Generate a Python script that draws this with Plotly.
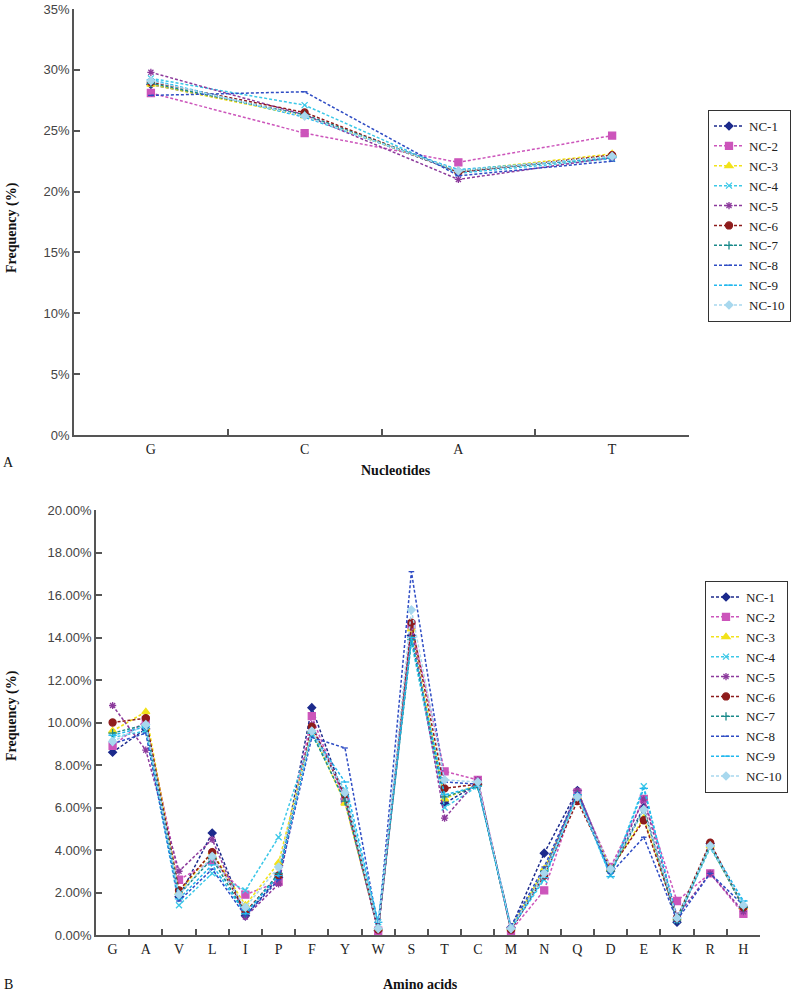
import plotly.graph_objects as go

# ---------------- data ----------------
nucleotides = ["G", "C", "A", "T"]
amino_acids = ["G", "A", "V", "L", "I", "P", "F", "Y", "W", "S",
               "T", "C", "M", "N", "Q", "D", "E", "K", "R", "H"]
series_names = ["NC-1", "NC-2", "NC-3", "NC-4", "NC-5",
                "NC-6", "NC-7", "NC-8", "NC-9", "NC-10"]

nuc_nc1 = [28.8, 26.3, 21.6, 22.9]
nuc_nc2 = [28.1, 24.8, 22.4, 24.6]
nuc_nc3 = [28.8, 26.2, 21.7, 23.1]
nuc_nc4 = [29.3, 27.1, 21.5, 22.7]
nuc_nc5 = [29.8, 26.3, 21.0, 22.8]
nuc_nc6 = [29.0, 26.5, 21.6, 23.0]
nuc_nc7 = [28.9, 26.3, 21.7, 22.8]
nuc_nc8 = [27.9, 28.2, 21.3, 22.5]
nuc_nc9 = [29.2, 26.1, 21.8, 22.8]
nuc_nc10 = [29.1, 26.2, 21.7, 22.9]

aa_nc1 = [8.6, 9.7, 1.8, 4.8, 0.9, 2.7, 10.7, 6.4, 0.2, 14.1, 6.2, 7.1, 0.35, 3.85, 6.8, 3.0, 6.0, 0.6, 4.3, 1.3]
aa_nc2 = [8.9, 10.1, 2.6, 3.5, 1.9, 2.5, 10.3, 6.3, 0.2, 14.6, 7.7, 7.3, 0.2, 2.1, 6.7, 3.2, 6.4, 1.6, 2.9, 1.0]
aa_nc3 = [9.6, 10.5, 2.0, 3.9, 1.4, 3.4, 9.6, 6.2, 0.3, 14.4, 6.4, 7.1, 0.3, 3.1, 6.5, 3.1, 5.5, 0.8, 4.2, 1.3]
aa_nc4 = [9.3, 9.6, 1.4, 2.9, 2.1, 4.6, 9.4, 6.8, 0.6, 13.8, 6.0, 7.0, 0.3, 2.6, 6.6, 2.8, 7.0, 0.7, 4.1, 1.5]
aa_nc5 = [10.8, 8.7, 3.0, 4.5, 0.85, 2.4, 9.9, 6.5, 0.2, 14.5, 5.5, 7.3, 0.2, 2.9, 6.8, 3.0, 6.4, 0.9, 2.9, 1.1]
aa_nc6 = [10.0, 10.2, 2.1, 3.9, 1.1, 2.8, 9.8, 6.6, 0.25, 14.7, 6.9, 7.1, 0.25, 2.8, 6.3, 3.1, 5.4, 0.8, 4.35, 1.3]
aa_nc7 = [9.5, 9.9, 1.9, 3.6, 1.0, 2.9, 9.5, 6.3, 0.3, 13.9, 6.5, 7.0, 0.3, 3.0, 6.6, 3.0, 5.9, 0.7, 4.2, 1.3]
aa_nc8 = [9.0, 9.5, 1.6, 3.1, 0.9, 2.6, 9.3, 8.8, 0.3, 17.1, 7.2, 7.1, 0.4, 3.2, 6.7, 2.9, 4.6, 0.7, 2.9, 1.4]
aa_nc9 = [9.4, 9.8, 1.7, 3.3, 1.0, 2.8, 9.5, 7.2, 0.6, 14.0, 6.6, 7.0, 0.3, 2.7, 6.6, 2.75, 6.9, 0.8, 4.2, 1.6]
aa_nc10 = [9.1, 9.9, 1.9, 3.7, 1.3, 3.2, 9.6, 6.7, 0.3, 15.3, 7.3, 7.2, 0.3, 2.9, 6.5, 3.1, 5.9, 0.8, 4.2, 1.4]

nuc_values = [nuc_nc1, nuc_nc2, nuc_nc3, nuc_nc4, nuc_nc5,
              nuc_nc6, nuc_nc7, nuc_nc8, nuc_nc9, nuc_nc10]
aa_values = [aa_nc1, aa_nc2, aa_nc3, aa_nc4, aa_nc5,
             aa_nc6, aa_nc7, aa_nc8, aa_nc9, aa_nc10]

# ---------------- styles ----------------
colors = ["#1c2a8c", "#cc55bb", "#f2e21a", "#3cc8e8", "#8c3a9c",
          "#8e1c1c", "#1a8a8a", "#2e4cc4", "#22b8ee", "#a8d8ee"]
symbols = ["diamond", "square", "triangle-up", "x-thin-open", "asterisk-open",
           "circle", "cross-thin-open", "line-ew-open", "line-ew-open", "diamond"]
sizes = [6, 7, 7, 6, 6, 7, 6, 4, 6, 6]

serif = "Liberation Serif"
sans = "Liberation Sans"

W = 800.0
H = 993.0


def px(x):
    return x / W


def py(y):
    return 1 - y / H


fig = go.Figure()

for i, name in enumerate(series_names):
    fig.add_trace(go.Scatter(
        x=nucleotides, y=nuc_values[i], name=name, mode="lines+markers",
        line=dict(color=colors[i], width=1.5, dash="3px,2px"),
        marker=dict(symbol=symbols[i], size=sizes[i], color=colors[i],
                    line=dict(color=colors[i], width=1.3)),
        xaxis="x", yaxis="y", legend="legend"))

for i, name in enumerate(series_names):
    fig.add_trace(go.Scatter(
        x=amino_acids, y=aa_values[i], name=name, mode="lines+markers",
        line=dict(color=colors[i], width=1.5, dash="3px,2px"),
        marker=dict(symbol=symbols[i], size=sizes[i], color=colors[i],
                    line=dict(color=colors[i], width=1.3)),
        xaxis="x2", yaxis="y2", legend="legend2"))

axis_common = dict(showline=True, linecolor="#555555", linewidth=1.5,
                   ticks="inside", ticklen=6, tickcolor="#555555",
                   tickwidth=1.5, showgrid=False, zeroline=False,
                   automargin=False)

fig.update_layout(
    width=800, height=993,
    margin=dict(l=0, r=0, t=0, b=0, autoexpand=False),
    paper_bgcolor="white", plot_bgcolor="white",
    showlegend=True,
    xaxis=dict(domain=[px(74), px(689)], anchor="y", type="category",
               tickson="boundaries", range=[-0.5, 3.5],
               tickfont=dict(family=serif, size=14, color="#222"),
               **axis_common),
    yaxis=dict(domain=[py(435), py(9)], anchor="x",
               range=[0, 35], dtick=5, ticksuffix="%",
               tickfont=dict(family=sans, size=13, color="#444"),
               **axis_common),
    xaxis2=dict(domain=[px(96), px(760)], anchor="y2", type="category",
                tickson="boundaries", range=[-0.5, 19.5],
                tickfont=dict(family=serif, size=14, color="#222"),
                **axis_common),
    yaxis2=dict(domain=[py(935), py(510)], anchor="x2",
                range=[0, 20], dtick=2, tickformat=".2f", ticksuffix="%",
                tickfont=dict(family=sans, size=13, color="#444"),
                **axis_common),
    legend=dict(x=px(708), y=py(110), xanchor="left", yanchor="top",
                bgcolor="white", bordercolor="#333", borderwidth=1,
                font=dict(family=serif, size=13, color="#222"),
                tracegroupgap=0, itemwidth=30),
    legend2=dict(x=px(705), y=py(581), xanchor="left", yanchor="top",
                 bgcolor="white", bordercolor="#333", borderwidth=1,
                 font=dict(family=serif, size=13, color="#222"),
                 tracegroupgap=0, itemwidth=30),
)

ann_font = dict(family=serif, size=14, color="#111")
annotations = [
    dict(text="<b>Nucleotides</b>", x=px(396), y=py(471)),
    dict(text="<b>Amino acids</b>", x=px(420), y=py(984)),
    dict(text="<b>Frequency (%)</b>", x=px(12), y=py(228), textangle=-90),
    dict(text="<b>Frequency (%)</b>", x=px(12), y=py(716), textangle=-90),
    dict(text="A", x=px(8), y=py(462)),
    dict(text="B", x=px(8), y=py(984)),
]
for a in annotations:
    fig.add_annotation(xref="paper", yref="paper", showarrow=False,
                       xanchor="center", yanchor="middle", font=ann_font, **a)

fig.write_html("out.html",
               config={"displayModeBar": False},
               post_script="document.body.style.margin='0';"
                           "document.body.style.overflow='hidden';")
